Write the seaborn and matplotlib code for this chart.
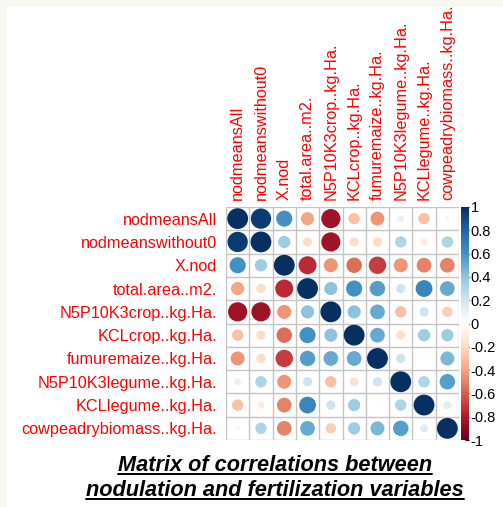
import numpy as np
import pandas as pd
import matplotlib
matplotlib.use("Agg")
import matplotlib.pyplot as plt
from matplotlib.colors import LinearSegmentedColormap, Normalize
from matplotlib.lines import Line2D
import seaborn as sns

variables = ["nodmeansAll", "nodmeanswithout0", "X.nod", "total.area..m2.",
             "N5P10K3crop..kg.Ha.", "KCLcrop..kg.Ha.", "fumuremaize..kg.Ha.",
             "N5P10K3legume..kg.Ha.", "KCLlegume..kg.Ha.", "cowpeadrybiomass..kg.Ha."]

r_nodmeansAll      = [1.00, 0.95, 0.60, -0.40, -0.85, -0.30, -0.45, 0.10, -0.30, 0.05]
r_nodmeanswithout0 = [0.95, 1.00, 0.35, -0.20, -0.85, -0.20, -0.20, 0.30, -0.12, 0.30]
r_Xnod             = [0.60, 0.35, 1.00, -0.75, -0.45, -0.55, -0.70, -0.45, -0.50, -0.50]
r_totalarea        = [-0.40, -0.20, -0.75, 1.00, 0.40, 0.60, 0.55, 0.20, 0.65, 0.50]
r_N5P10K3crop      = [-0.85, -0.85, -0.45, 0.40, 1.00, 0.40, 0.50, -0.30, 0.20, -0.25]
r_KCLcrop          = [-0.30, -0.20, -0.55, 0.60, 0.40, 1.00, 0.50, -0.18, 0.35, 0.35]
r_fumuremaize      = [-0.45, -0.20, -0.70, 0.55, 0.50, 0.50, 1.00, 0.20, 0.02, 0.45]
r_N5P10K3legume    = [0.10, 0.30, -0.45, 0.20, -0.30, -0.18, 0.20, 1.00, 0.30, 0.55]
r_KCLlegume        = [-0.30, -0.12, -0.50, 0.65, 0.20, 0.35, 0.02, 0.30, 1.00, 0.15]
r_cowpea           = [0.05, 0.30, -0.50, 0.50, -0.25, 0.35, 0.45, 0.55, 0.15, 1.00]

rows = [r_nodmeansAll, r_nodmeanswithout0, r_Xnod, r_totalarea, r_N5P10K3crop,
        r_KCLcrop, r_fumuremaize, r_N5P10K3legume, r_KCLlegume, r_cowpea]

colorbar_ticks = [-1, -0.8, -0.6, -0.4, -0.2, 0, 0.2, 0.4, 0.6, 0.8, 1]
title_lines = ["Matrix of correlations between", "nodulation and fertilization variables"]

records = []
for i, row in enumerate(rows):
    for j, v in enumerate(row):
        records.append({"row": i, "col": j, "r": v, "absr": abs(v)})
df = pd.DataFrame(records)

cmap = LinearSegmentedColormap.from_list(
    "corrRdBu", ["#67001F", "#B2182B", "#D6604D", "#F4A582", "#FDDBC7", "#FFFFFF",
                 "#D1E5F0", "#92C5DE", "#4393C3", "#2166AC", "#053061"], N=200)

sns.set_style("white")
plt.rcParams['font.family'] = ['Liberation Sans', 'DejaVu Sans']

W, H = 503, 507
fig = plt.figure(figsize=(W / 100, H / 100), dpi=100)
fig.patch.set_facecolor("#f7f8f2")
fig.add_artist(plt.Rectangle((7 / W, 0), 1, 1 - 7 / H, transform=fig.transFigure,
                             facecolor="white", edgecolor="none", zorder=-1))

gl, gr, gt, gb = 226, 459, 207, 440
ax = fig.add_axes([gl / W, 1 - gb / H, (gr - gl) / W, (gb - gt) / H])

sns.scatterplot(data=df, x="col", y="row", hue="r", size="absr",
                palette=cmap, hue_norm=(-1, 1), sizes=(0, 225), size_norm=(0, 1),
                legend=False, edgecolor="none", linewidth=0, ax=ax, zorder=3)

n = len(variables)
ax.set_xlim(-0.5, n - 0.5)
ax.set_ylim(n - 0.5, -0.5)
ax.set_xticks(range(n))
ax.set_yticks(range(n))
ax.set_xticklabels(variables, rotation=90, color="red", fontsize=11.7)
ax.set_yticklabels(variables, color="red", fontsize=11.7)
ax.xaxis.tick_top()
ax.tick_params(axis="x", length=0, pad=5)
ax.tick_params(axis="y", length=0, pad=6.5)
ax.set_xlabel("")
ax.set_ylabel("")
for k in range(n + 1):
    ax.axhline(k - 0.5, color="#c4c4c4", lw=1, zorder=1)
    ax.axvline(k - 0.5, color="#c4c4c4", lw=1, zorder=1)
for s in ax.spines.values():
    s.set_visible(False)

cax = fig.add_axes([461 / W, 1 - gb / H, 8 / W, (gb - gt) / H])
cb = fig.colorbar(plt.cm.ScalarMappable(norm=Normalize(-1, 1), cmap=cmap), cax=cax)
cb.set_ticks(colorbar_ticks)
cb.set_ticklabels([("%g" % t) for t in colorbar_ticks])
cb.outline.set_visible(False)
cax.tick_params(labelsize=10.5, length=3, width=0.8, pad=1, direction="in", colors="black")

ys = [471, 496]
fig.canvas.draw()
renderer = fig.canvas.get_renderer()
for line, y in zip(title_lines, ys):
    t = fig.text(275 / W, 1 - y / H, line, ha="center", va="baseline",
                 fontsize=15.7, fontweight="bold", fontstyle="italic", color="black")
    bb = t.get_window_extent(renderer=renderer)
    uy = 1 - (y + 3) / H
    fig.add_artist(Line2D([bb.x0 / W, bb.x1 / W], [uy, uy], transform=fig.transFigure,
                          color="black", lw=1.4))

fig.savefig("out.png", dpi=100)
